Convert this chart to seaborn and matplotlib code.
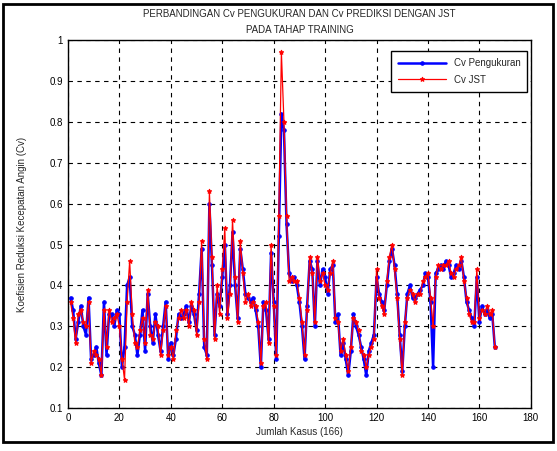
import matplotlib
matplotlib.use("Agg")
import matplotlib.pyplot as plt
import numpy as np
import pandas as pd
import seaborn as sns
from matplotlib.patches import Rectangle

# --- data (166 cases) ---
cv_pengukuran = [
    0.37, 0.34, 0.27, 0.31, 0.35, 0.30, 0.28, 0.37, 0.22, 0.23,
    0.25, 0.21, 0.18, 0.36, 0.23, 0.33, 0.33, 0.30, 0.34, 0.33,
    0.20, 0.25, 0.40, 0.42, 0.30, 0.28, 0.23, 0.28, 0.34, 0.24,
    0.38, 0.30, 0.26, 0.33, 0.28, 0.24, 0.30, 0.36, 0.22, 0.26,
    0.23, 0.27, 0.33, 0.32, 0.33, 0.35, 0.31, 0.35, 0.33, 0.29,
    0.38, 0.49, 0.25, 0.23, 0.60, 0.45, 0.28, 0.38, 0.35, 0.42,
    0.50, 0.33, 0.40, 0.53, 0.40, 0.32, 0.49, 0.44, 0.38, 0.37,
    0.36, 0.37, 0.34, 0.30, 0.20, 0.36, 0.34, 0.27, 0.48, 0.36,
    0.22, 0.52, 0.82, 0.78, 0.55, 0.43, 0.41, 0.42, 0.40, 0.36,
    0.30, 0.22, 0.35, 0.46, 0.44, 0.30, 0.46, 0.40, 0.44, 0.42,
    0.38, 0.44, 0.45, 0.31, 0.33, 0.23, 0.26, 0.22, 0.18, 0.24,
    0.33, 0.30, 0.28, 0.25, 0.22, 0.18, 0.24, 0.26, 0.28, 0.42,
    0.38, 0.36, 0.34, 0.40, 0.46, 0.49, 0.45, 0.38, 0.28, 0.19,
    0.30, 0.38, 0.40, 0.37, 0.37, 0.38, 0.39, 0.40, 0.43, 0.42,
    0.36, 0.20, 0.43, 0.44, 0.45, 0.44, 0.46, 0.45, 0.42, 0.43,
    0.45, 0.44, 0.46, 0.42, 0.36, 0.34, 0.32, 0.30, 0.42, 0.31,
    0.35, 0.33, 0.34, 0.32, 0.33, 0.25,
]
cv_jst = [
    0.36, 0.32, 0.26, 0.33, 0.34, 0.31, 0.30, 0.36, 0.21, 0.24,
    0.23, 0.22, 0.18, 0.34, 0.25, 0.34, 0.31, 0.32, 0.33, 0.30,
    0.22, 0.17, 0.36, 0.46, 0.33, 0.26, 0.25, 0.29, 0.32, 0.26,
    0.39, 0.28, 0.27, 0.31, 0.30, 0.23, 0.29, 0.35, 0.23, 0.25,
    0.22, 0.29, 0.32, 0.34, 0.32, 0.34, 0.30, 0.36, 0.34, 0.28,
    0.36, 0.51, 0.27, 0.22, 0.63, 0.47, 0.27, 0.40, 0.33, 0.44,
    0.54, 0.32, 0.38, 0.56, 0.42, 0.31, 0.51, 0.43, 0.36, 0.38,
    0.35, 0.36, 0.35, 0.31, 0.21, 0.35, 0.36, 0.26, 0.50, 0.35,
    0.23, 0.57, 0.97, 0.80, 0.57, 0.41, 0.42, 0.41, 0.41, 0.37,
    0.31, 0.23, 0.34, 0.47, 0.43, 0.31, 0.47, 0.41, 0.43, 0.40,
    0.39, 0.43, 0.46, 0.32, 0.31, 0.24, 0.27, 0.23, 0.19, 0.25,
    0.32, 0.31, 0.29, 0.24, 0.23, 0.20, 0.23, 0.25, 0.27, 0.44,
    0.37, 0.35, 0.33, 0.41, 0.47, 0.50, 0.44, 0.37, 0.27, 0.18,
    0.31, 0.37, 0.39, 0.38, 0.36, 0.38, 0.38, 0.41, 0.42, 0.43,
    0.37, 0.30, 0.42, 0.45, 0.44, 0.45, 0.45, 0.46, 0.43, 0.42,
    0.44, 0.45, 0.47, 0.41, 0.37, 0.33, 0.31, 0.31, 0.44, 0.32,
    0.34, 0.33, 0.35, 0.33, 0.34, 0.25,
]
kasus = np.arange(1, len(cv_pengukuran) + 1)

df = pd.DataFrame({"kasus": kasus, "Cv Pengukuran": cv_pengukuran, "Cv JST": cv_jst})

sns.set_style("white")
plt.rcParams["font.family"] = ["Liberation Sans", "DejaVu Sans"]
plt.rcParams["font.size"] = 7

fig = plt.figure(figsize=(5.57, 4.51), dpi=100)
ax = fig.add_axes([0.122, 0.095, 0.831, 0.816])

sns.lineplot(data=df, x="kasus", y="Cv Pengukuran", color="blue", marker=".",
             markersize=5, markeredgecolor="blue", linewidth=1.8,
             label="Cv Pengukuran", ax=ax)
sns.lineplot(data=df, x="kasus", y="Cv JST", color="red", marker="*",
             markersize=3.5, markeredgecolor="red", linewidth=0.9,
             label="Cv JST", ax=ax)

ax.set_xlim(0, 180)
ax.set_ylim(0.1, 1.0)
ax.set_xticks(np.arange(0, 181, 20))
ax.set_yticks(np.round(np.arange(0.1, 1.01, 0.1), 1))
ax.set_yticklabels(["0.1", "0.2", "0.3", "0.4", "0.5", "0.6", "0.7", "0.8", "0.9", "1"])
ax.grid(True, linestyle=(0, (4, 4)), color="black", linewidth=0.8)
ax.tick_params(direction="in", length=3, labelsize=7, colors="black")
for s in ax.spines.values():
    s.set_color("black")
    s.set_linewidth(1.0)

ax.set_xlabel("Jumlah Kasus (166)", fontsize=7, labelpad=3)
ax.set_ylabel("Koefisien Reduksi Kecepatan Angin (Cv)", fontsize=7, labelpad=16)
ax.set_title("PERBANDINGAN Cv PENGUKURAN DAN Cv PREDIKSI DENGAN JST\nPADA TAHAP TRAINING",
             fontsize=7, linespacing=1.8, pad=5)

leg = ax.legend(loc="upper right", bbox_to_anchor=(0.997, 0.975), fontsize=7,
                fancybox=False, framealpha=1, edgecolor="black",
                handlelength=5, borderpad=0.7, labelspacing=0.7,
                borderaxespad=0.2)
leg.get_frame().set_linewidth(1.0)

fig.patches.append(Rectangle((0.006, 0.02), 0.986, 0.972, transform=fig.transFigure,
                             fill=False, edgecolor="black", linewidth=2))

fig.savefig("out.png", dpi=100)
